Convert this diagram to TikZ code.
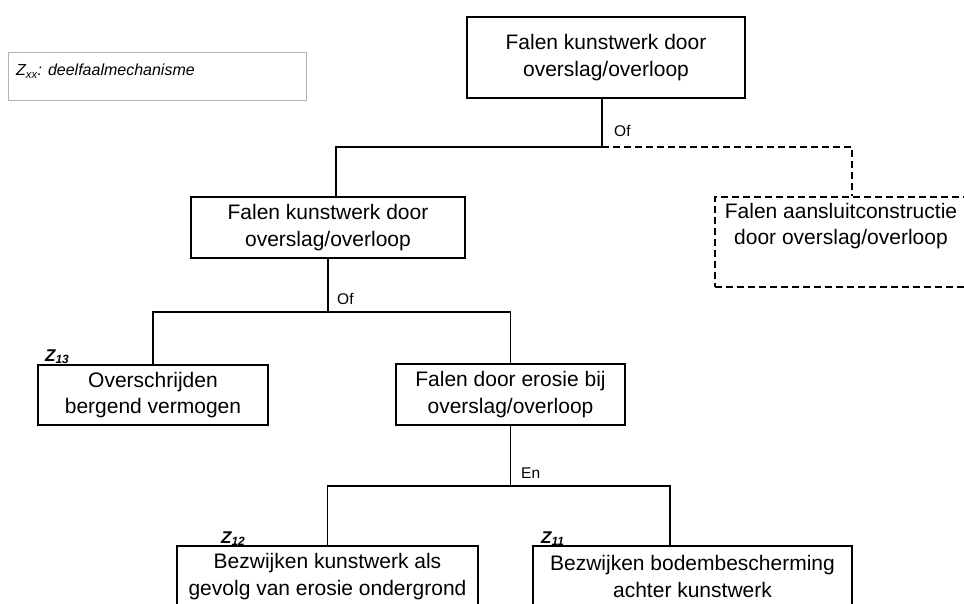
\documentclass[tikz,border=0pt]{standalone}
\usepackage{fontspec}
\setmainfont{Liberation Sans}
\begin{document}
\begin{tikzpicture}[x=1pt,y=-1pt,
  box/.style={draw, line width=2pt, align=center, inner sep=0pt, font=\fontsize{21}{26.5}\selectfont},
  dbox/.style={box, dash pattern=on 7pt off 4pt},
  txt/.style={align=center, inner sep=0pt, font=\fontsize{21}{26}\selectfont},
  conn/.style={line width=1.8pt},
  dconn/.style={line width=1.8pt, dash pattern=on 7pt off 4pt},
  lab/.style={inner sep=0pt, anchor=base west, font=\fontsize{15.5}{18}\selectfont},
  zlab/.style={inner sep=0pt, anchor=base west, font=\fontsize{17}{20}\selectfont\bfseries\itshape}
]
\clip (0,0) rectangle (964,604);
\fill[white] (0,0) rectangle (964,604);

% legend
\node[draw=gray!60, line width=0.8pt, minimum width=298pt, minimum height=48pt, anchor=north west, inner sep=0pt] (leg) at (8,52) {};
\node[inner sep=0pt, anchor=base west, font=\fontsize{16}{18}\selectfont\itshape] (legtxt) at (16,76) {Z\textsubscript{xx}: deelfaalmechanisme};

% boxes
\node[box, minimum width=278pt, minimum height=81pt] (top) at (606,57.5) {Falen kunstwerk door\\overslag/overloop};
\node[box, minimum width=274pt, minimum height=61pt] (b2) at (328,227.5) {Falen kunstwerk door\\overslag/overloop};
\node[dbox, minimum width=253pt, minimum height=90pt] (alt) at (841.5,242) {};
\node[txt] (alttxt) at (841,226) {Falen aansluitconstructie\\door overslag/overloop};
\node[box, minimum width=230pt, minimum height=60pt] (over) at (153,395) {Overschrijden\\bergend vermogen};
\node[box, minimum width=229pt, minimum height=61pt] (ero) at (510.5,394.5) {Falen door erosie bij\\overslag/overloop};
\node[box, minimum width=301pt, minimum height=61pt] (bl) at (327.5,576.5) {Bezwijken kunstwerk als\\gevolg van erosie ondergrond};
\node[box, minimum width=319pt, minimum height=61pt] (br) at (692.5,576.5) {Bezwijken bodembescherming\\achter kunstwerk};

% connectors
\coordinate (j1) at (602,147);
\draw[conn] (j1 |- top.south) -- (j1) -| ([xshift=8pt]b2.north);
\draw[dconn] (j1) -| ([xshift=10.5pt]alt.north);
\coordinate (j2) at (328,312);
\draw[conn] (b2.south) -- (j2);
\draw[conn] (over.north) |- (j2) -| (ero.north);
\coordinate (j3) at (510.5,486);
\draw[conn] (ero.south) -- (j3);
\draw[conn] (bl.north) |- (j3) -| ([xshift=-22.5pt]br.north);

% gate labels
\node[lab] (of1) at (614,137) {Of};
\node[lab] (of2) at (337,304) {Of};
\node[lab] (en) at (521,478) {En};

% Z labels
\node[zlab] (z13) at (45,361) {Z\textsubscript{13}};
\node[zlab] (z12) at (221,543) {Z\textsubscript{12}};
\node[zlab] (z11) at (541,543) {Z\textsubscript{11}};
\end{tikzpicture}
\end{document}
